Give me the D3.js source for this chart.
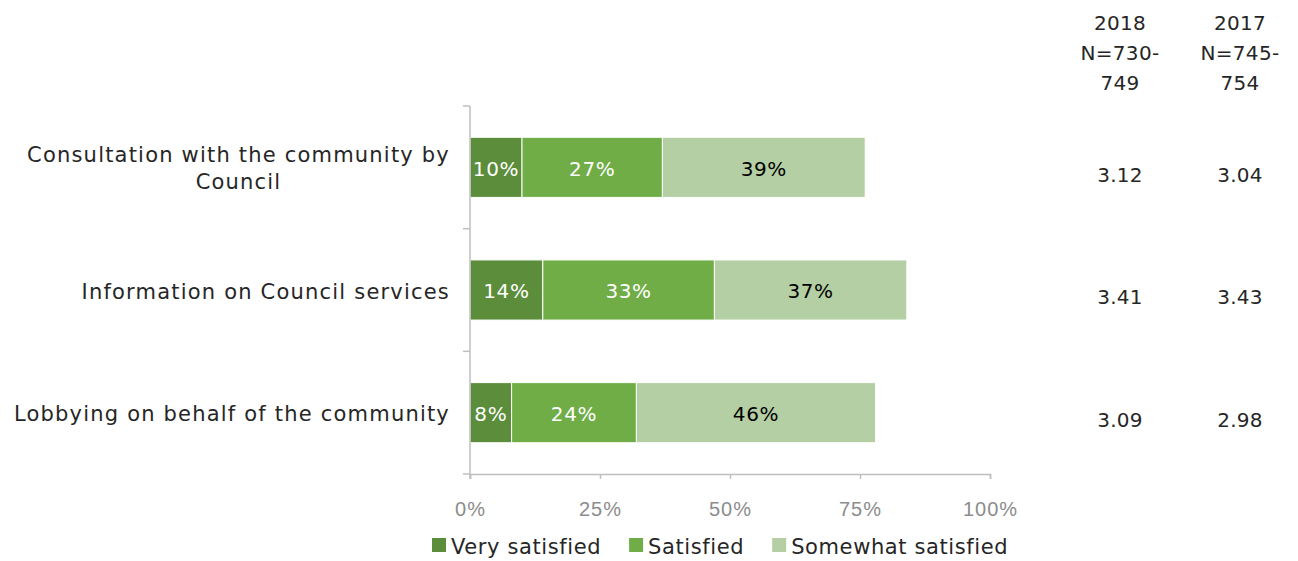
<!DOCTYPE html>
<html>
<head>
<meta charset="utf-8">
<script src="https://cdn.jsdelivr.net/npm/d3@7"></script>
<style>
  html, body { margin: 0; padding: 0; background: #fff; }
  svg { display: block; font-family: "Century Gothic", "DejaVu Sans", sans-serif; }
</style>
</head>
<body>
<svg id="chart" width="1298" height="561"></svg>
<script>
// Satisfaction with council advocacy and engagement, stacked by rating level
const categories = [
  ["Consultation with the community by", "Council"],
  ["Information on Council services"],
  ["Lobbying on behalf of the community"]
];
const seriesNames = ["Very satisfied", "Satisfied", "Somewhat satisfied"];
const verySatisfied = [10, 14, 8];
const satisfied = [27, 33, 24];
const somewhatSatisfied = [39, 37, 46];
const mean2018 = ["3.12", "3.41", "3.09"];
const mean2017 = ["3.04", "3.43", "2.98"];
const header2018 = ["2018", "N=730-", "749"];
const header2017 = ["2017", "N=745-", "754"];
const xTicks = [0, 25, 50, 75, 100];

const colors = ["#5B8D3A", "#70AD47", "#B4CFA4"];
const labelColors = ["#ffffff", "#ffffff", "#000000"];
const textColor = "#262626";

const svg = d3.select("#chart");
const plotLeft = 470, plotRight = 990, plotTop = 106, plotBottom = 474;

const x = d3.scaleLinear().domain([0, 100]).range([plotLeft, plotRight]);
const y = d3.scaleBand().domain(d3.range(categories.length)).range([plotTop, plotBottom]).paddingInner(0.51).paddingOuter(0.255);

const rows = categories.map((c, i) => ({
  i,
  values: [verySatisfied[i], satisfied[i], somewhatSatisfied[i]]
}));

const stacked = d3.stack().keys([0, 1, 2]).value((d, k) => d.values[k])(rows);

// bars
const layers = svg.append("g").selectAll("g").data(stacked).join("g")
  .attr("fill", (d, k) => colors[k]);

layers.selectAll("rect").data(d => d).join("rect")
  .attr("x", d => x(d[0]))
  .attr("y", d => y(d.data.i))
  .attr("width", d => x(d[1]) - x(d[0]))
  .attr("height", y.bandwidth())
  .attr("stroke", "#ffffff")
  .attr("stroke-width", 1);

// value labels inside segments
stacked.forEach((layer, k) => {
  svg.append("g").selectAll("text").data(layer).join("text")
    .attr("x", d => (x(d[0]) + x(d[1])) / 2)
    .attr("y", d => y(d.data.i) + y.bandwidth() / 2 + 1)
    .attr("dy", "0.36em")
    .attr("text-anchor", "middle")
    .attr("font-size", 20)
    .attr("letter-spacing", 0.6)
    .attr("fill", labelColors[k])
    .text(d => (d[1] - d[0]) + "%");
});

// x axis
const xAxis = svg.append("g")
  .attr("transform", `translate(0,${plotBottom})`)
  .call(d3.axisBottom(x).tickValues(xTicks).tickFormat(d => d + "%").tickSizeOuter(0).tickSize(5).tickPadding(23));
xAxis.select(".domain").attr("stroke", "#bfbfbf").attr("stroke-width", 1.5);
xAxis.selectAll(".tick line").attr("stroke", "#bfbfbf").attr("stroke-width", 1.5);
xAxis.selectAll(".tick text").attr("fill", "#8c8c8c").attr("font-size", 20)
  .attr("letter-spacing", 1).attr("font-family", null);

// y axis line with boundary ticks between categories
const yAxis = svg.append("g");
yAxis.append("line")
  .attr("x1", plotLeft).attr("x2", plotLeft).attr("y1", plotTop).attr("y2", plotBottom + 5)
  .attr("stroke", "#bfbfbf").attr("stroke-width", 1.5);
const bounds = d3.range(categories.length + 1).map(i => plotTop + i * (plotBottom - plotTop) / categories.length);
yAxis.selectAll("line.tk").data(bounds).join("line").attr("class", "tk")
  .attr("x1", plotLeft - 7).attr("x2", plotLeft).attr("y1", d => d).attr("y2", d => d)
  .attr("stroke", "#bfbfbf").attr("stroke-width", 1.5);

// category labels
const catG = svg.append("g").selectAll("text").data(categories).join("text")
  .attr("text-anchor", "middle")
  .attr("font-size", 21)
  .attr("letter-spacing", 1.2)
  .attr("fill", textColor);
catG.each(function(lines, i) {
  const t = d3.select(this);
  const cy = y(i) + y.bandwidth() / 2 + 1;
  const lh = 27;
  lines.forEach((ln, j) => {
    t.append("tspan")
      .attr("y", cy + (j - (lines.length - 1) / 2) * lh)
      .attr("dy", "0.36em")
      .text(ln);
  });
});
// right-align each block by centring its lines on the widest line
catG.each(function() {
  const t = d3.select(this);
  const spans = t.selectAll("tspan").nodes();
  const maxW = d3.max(spans, s => s.getComputedTextLength());
  t.selectAll("tspan").attr("x", 450 - maxW / 2);
});

// mean score columns
const colX = [1120, 1240];
[[header2018, mean2018], [header2017, mean2017]].forEach(([hdr, vals], c) => {
  const g = svg.append("g").attr("text-anchor", "middle").attr("font-size", 20)
    .attr("letter-spacing", 0.3).attr("fill", textColor);
  hdr.forEach((h, j) => {
    g.append("text").attr("x", colX[c]).attr("y", 30 + j * 30).text(h);
  });
  vals.forEach((v, i) => {
    g.append("text").attr("x", colX[c]).attr("y", y(i) + y.bandwidth() / 2 + 7).attr("dy", "0.36em").text(v);
  });
});

// legend
const legend = svg.append("g").attr("transform", "translate(432,546)");
let lx = 0;
seriesNames.forEach((name, k) => {
  const item = legend.append("g").attr("transform", `translate(${lx},0)`);
  item.append("rect").attr("x", 0).attr("y", -8).attr("width", 14).attr("height", 14).attr("fill", colors[k]);
  const txt = item.append("text").attr("x", 19).attr("y", 0).attr("dy", "0.36em")
    .attr("font-size", 21).attr("letter-spacing", 0.6).attr("fill", textColor).text(name);
  lx += 19 + txt.node().getComputedTextLength() + 28;
});
</script>
</body>
</html>
